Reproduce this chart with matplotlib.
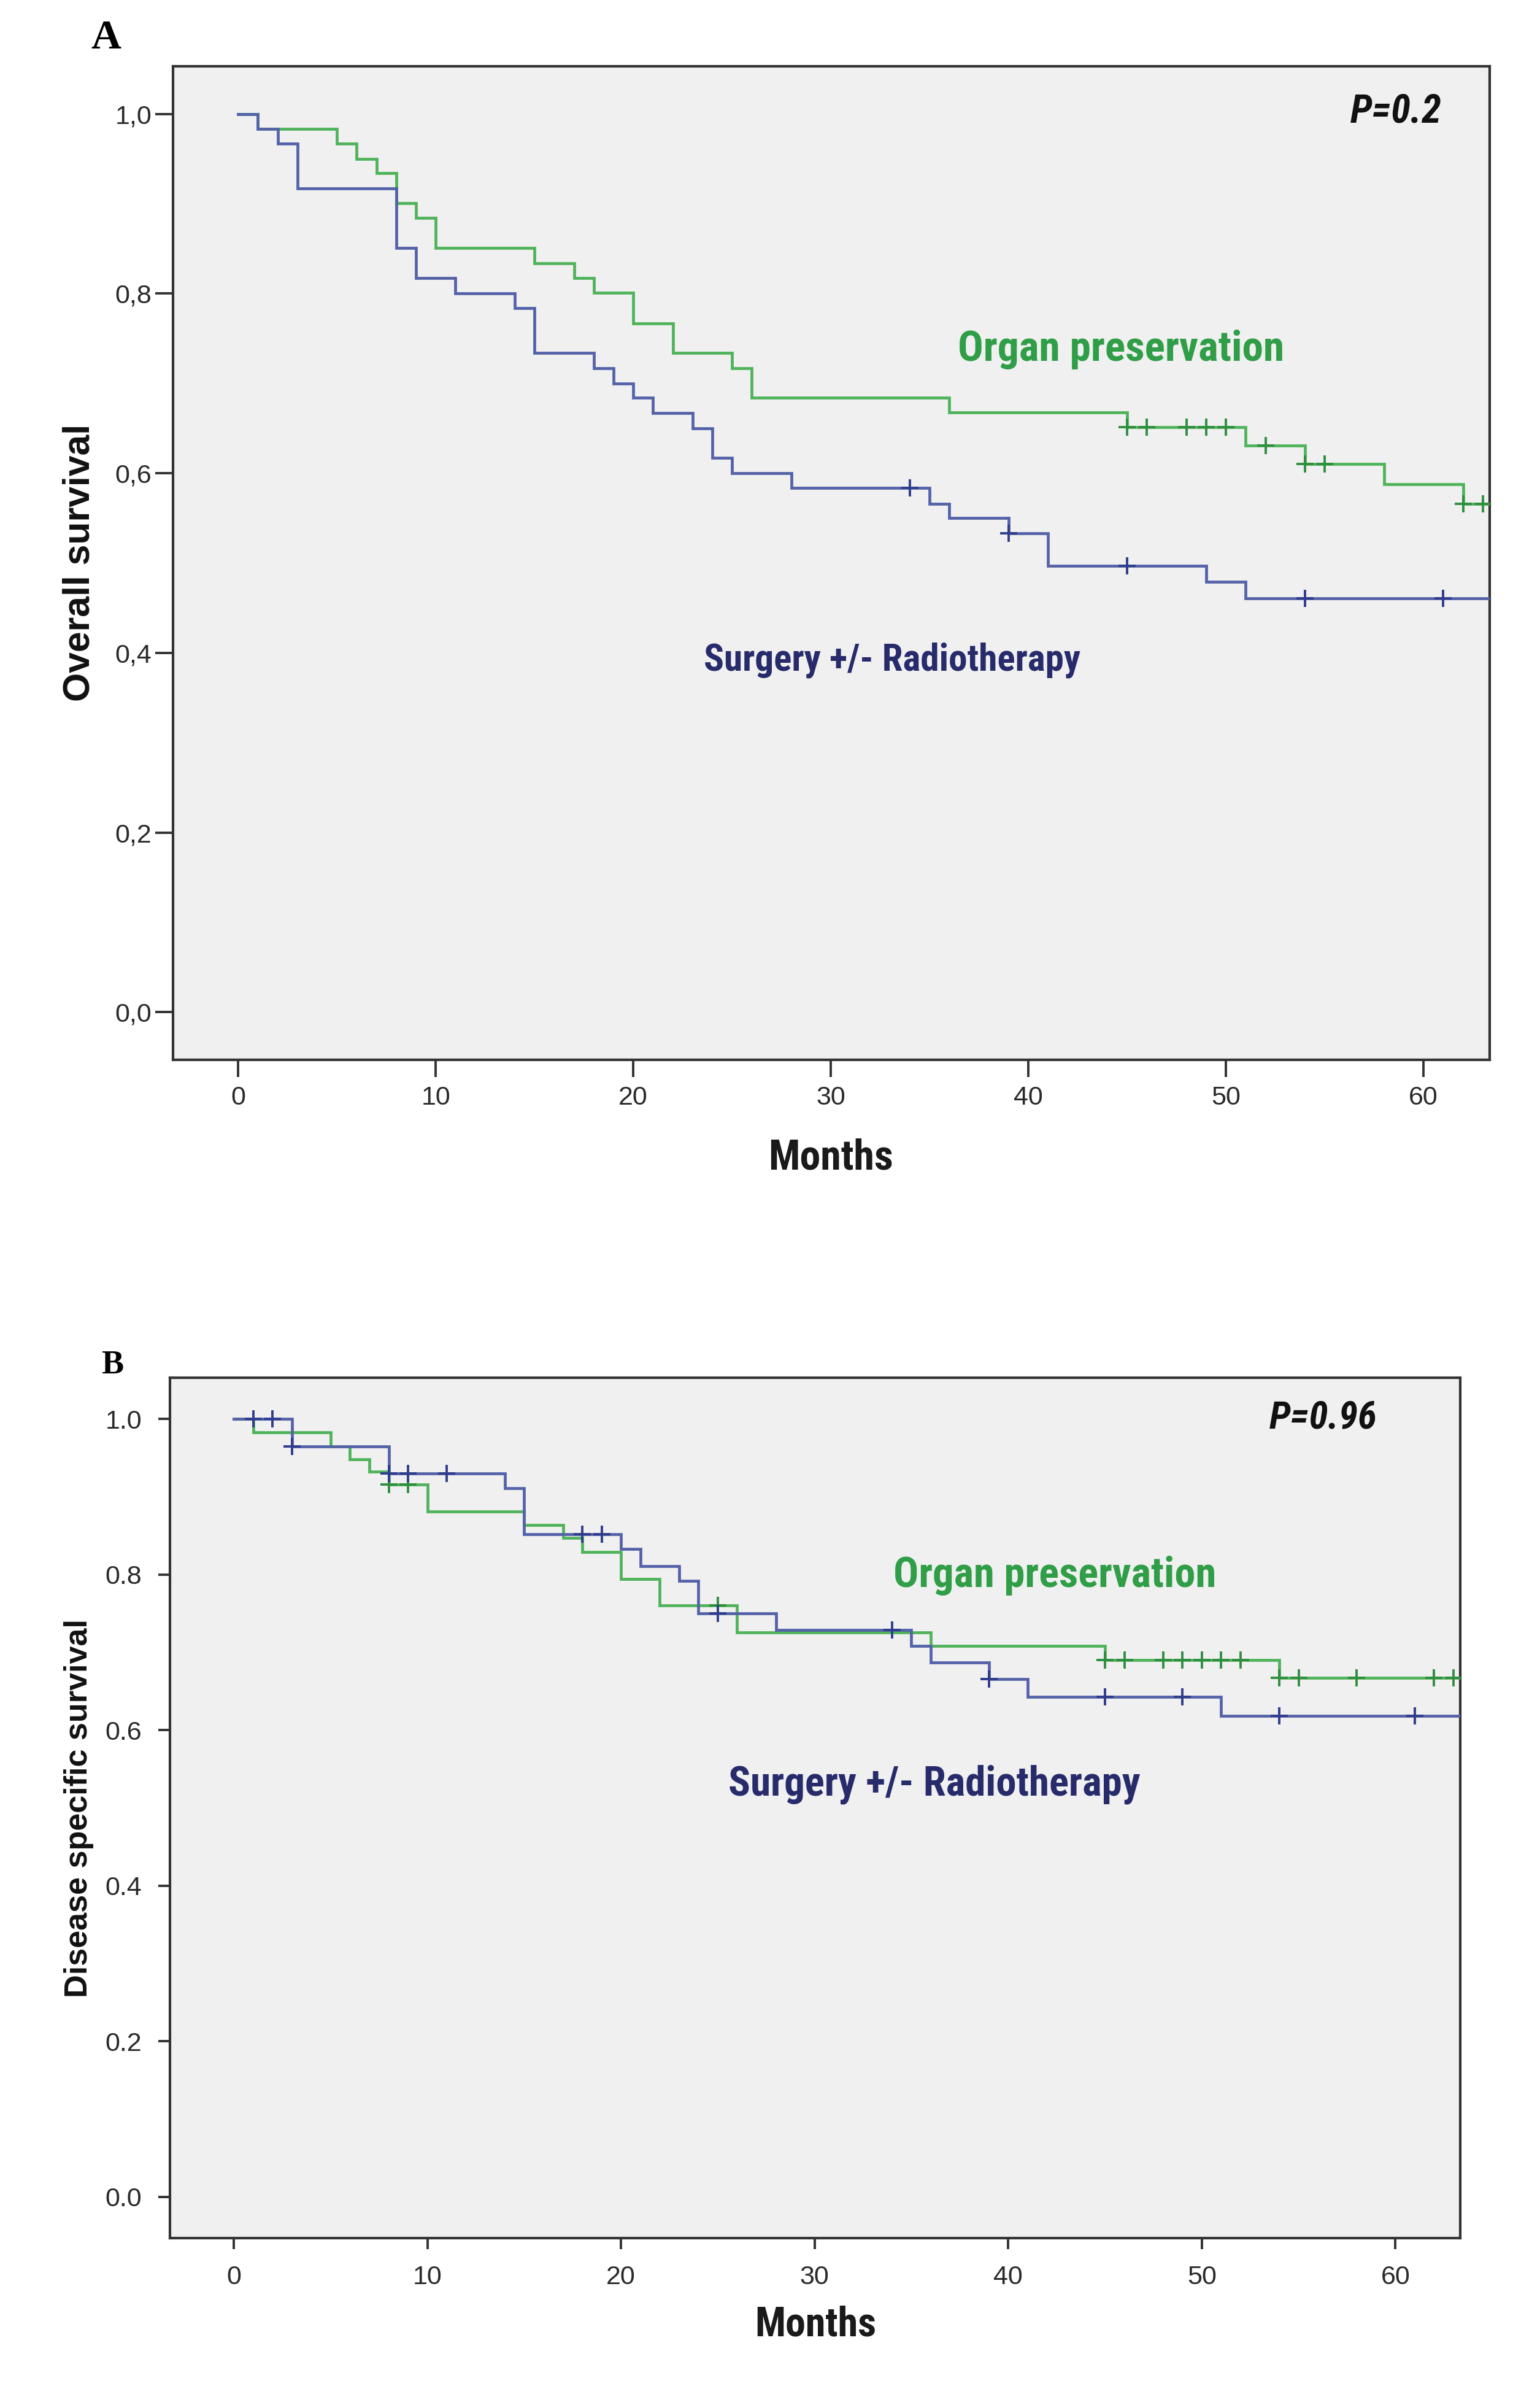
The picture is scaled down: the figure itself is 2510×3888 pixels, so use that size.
import numpy as np
import matplotlib
matplotlib.use("Agg")
import matplotlib.pyplot as plt
from matplotlib import font_manager as fm
from matplotlib.font_manager import FontProperties

# ---------------- data ----------------
# Panel A: overall survival
A_green_t = [0, 1, 5, 6, 7, 8, 9, 10, 15, 17, 18, 20, 22, 25, 26, 36, 45, 51, 54, 58, 62]
A_green_s = [1.0, .983, .967, .950, .934, .901, .884, .851, .834, .817, .801, .767, .734,
             .717, .684, .668, .651, .631, .610, .588, .566]
A_green_cens = [45, 46, 48, 49, 50, 52, 54, 55, 62, 63]
A_blue_t = [0, 1, 2, 3, 8, 9, 11, 14, 15, 18, 19, 20, 21, 23, 24, 25, 28, 35, 36, 39, 41, 49, 51]
A_blue_s = [1.0, .983, .967, .917, .851, .817, .800, .784, .734, .717, .700, .684, .667, .650,
            .617, .600, .584, .566, .550, .533, .497, .479, .461]
A_blue_cens = [34, 39, 45, 54, 61]
A_end = 64

# Panel B: disease specific survival
B_green_t = [0, 1, 5, 6, 7, 8, 10, 15, 17, 18, 20, 22, 26, 36, 45, 54]
B_green_s = [1.0, .983, .965, .948, .932, .916, .881, .864, .847, .829, .794, .760, .726,
             .708, .690, .667]
B_green_cens = [8, 9, 25, 45, 46, 48, 49, 50, 51, 52, 54, 55, 58, 62, 63]
B_blue_t = [0, 3, 8, 14, 15, 20, 21, 23, 24, 28, 35, 36, 39, 41, 51]
B_blue_s = [1.0, .965, .930, .911, .852, .833, .811, .792, .750, .729, .708, .687, .666,
            .643, .618]
B_blue_cens = [1, 2, 3, 8, 9, 11, 18, 19, 25, 34, 39, 45, 49, 54, 61]
B_end = 64

x_ticks = [0, 10, 20, 30, 40, 50, 60]
y_ticks = [0.0, 0.2, 0.4, 0.6, 0.8, 1.0]
A_ytick_labels = ["0,0", "0,2", "0,4", "0,6", "0,8", "1,0"]
B_ytick_labels = ["0.0", "0.2", "0.4", "0.6", "0.8", "1.0"]

# ---------------- fonts ----------------
avail = {f.name for f in fm.fontManager.ttflist}
SANS = "Liberation Sans" if "Liberation Sans" in avail else "DejaVu Sans"
SERIF = "Liberation Serif" if "Liberation Serif" in avail else "DejaVu Serif"


def _wt(w):
    if isinstance(w, str):
        return {"bold": 700, "semibold": 600, "heavy": 800, "black": 900}.get(w, 400)
    return int(w)


def find_condensed(italic=False):
    prefs = ["Liberation Sans Narrow", "Roboto Condensed", "Open Sans Condensed",
             "Noto Sans", "Open Sans", "DejaVu Sans"]
    cands = []
    for f in fm.fontManager.ttflist:
        nm = f.name
        narrow = ("Narrow" in nm or "Condensed" in nm or
                  str(f.stretch) in ("condensed", "semi-condensed", "extra-condensed") or
                  "Condensed" in f.fname or "Narrow" in f.fname)
        if not narrow:
            continue
        if _wt(f.weight) < 600:
            continue
        is_it = f.style in ("italic", "oblique")
        if is_it != italic:
            continue
        rank = next((i for i, p in enumerate(prefs) if nm.startswith(p)), len(prefs))
        cands.append((rank, abs(_wt(f.weight) - 700), f.fname))
    if cands:
        cands.sort()
        return cands[0][2]
    return None


COND_B = find_condensed(False)
COND_BI = find_condensed(True)


def fp_narrow(italic=False):
    path = COND_BI if italic else COND_B
    if path is None and italic:
        path = COND_B
    if path is not None:
        fp = FontProperties(fname=path)
        if italic and path == COND_B:
            fp.set_style("italic")
        return fp
    return FontProperties(family=SANS, weight="bold", style="italic" if italic else "normal")


# ---------------- style ----------------
GREEN_LINE = "#4fb35a"
GREEN_MARK = "#2f8f3f"
GREEN_TEXT = "#2f9e47"
BLUE_LINE = "#5462a8"
BLUE_MARK = "#2f3d8c"
NAVY_TEXT = "#272b6b"
FACE = "#f0f0f0"
FRAME = "#333333"

W, H = 2510, 3888
fig = plt.figure(figsize=(W / 100, H / 100), dpi=100)
fig.patch.set_facecolor("white")


def px(x, y):
    return x / W, 1 - y / H


def km_at(times, surv, t):
    i = np.searchsorted(np.asarray(times), t, side="right") - 1
    return np.asarray(surv)[i]


def draw_curve(ax, t, s, cens, end, lcol, mcol):
    tt = list(t) + [end]
    ss = list(s) + [s[-1]]
    ax.step(tt, ss, where="post", color=lcol, lw=3.4, solid_joinstyle="miter", zorder=3)
    cy = [km_at(t, s, c) for c in cens]
    ax.plot(cens, cy, ls="none", marker="+", ms=20, mew=2.8, color=mcol, zorder=4)


def setup_axes(ax, ylabels, tlen_y, tpad_y, tlen_x, tpad_x):
    ax.set_facecolor(FACE)
    ax.set_xlim(-3.3, 63.35)
    ax.set_ylim(-0.053, 1.053)
    ax.set_xticks(x_ticks)
    ax.set_xticklabels([str(v) for v in x_ticks])
    ax.set_yticks(y_ticks)
    ax.set_yticklabels(ylabels)
    for sp in ax.spines.values():
        sp.set_color(FRAME)
        sp.set_linewidth(3.0)
    ax.tick_params(axis="y", direction="out", length=tlen_y, width=2.8, pad=tpad_y,
                   color=FRAME, labelsize=31, labelcolor="#2a2a2a")
    ax.tick_params(axis="x", direction="out", length=tlen_x, width=2.8, pad=tpad_x,
                   color=FRAME, labelsize=31, labelcolor="#2a2a2a")
    for lab in ax.get_xticklabels() + ax.get_yticklabels():
        lab.set_fontfamily(SANS)


# ---------------- Panel A ----------------
axA = fig.add_axes([282 / W, 1 - 1727 / H, (2428 - 282) / W, (1727 - 108) / H])
setup_axes(axA, A_ytick_labels, 21, 4, 20, 10)
draw_curve(axA, A_green_t, A_green_s, A_green_cens, A_end, GREEN_LINE, GREEN_MARK)
draw_curve(axA, A_blue_t, A_blue_s, A_blue_cens, A_end, BLUE_LINE, BLUE_MARK)

# ---------------- Panel B ----------------
axB = fig.add_axes([277 / W, 1 - 3647 / H, (2380 - 277) / W, (3647 - 2245) / H])
setup_axes(axB, B_ytick_labels, 14, 19, 13, 19)
draw_curve(axB, B_green_t, B_green_s, B_green_cens, B_end, GREEN_LINE, GREEN_MARK)
draw_curve(axB, B_blue_t, B_blue_s, B_blue_cens, B_end, BLUE_LINE, BLUE_MARK)

# ---------------- texts ----------------
fits = []


def ftext(x, y, s, target_w, size, fp=None, **kw):
    if fp is not None:
        fp = fp.copy()
        fp.set_size(size)
        t = fig.text(*px(x, y), s, fontproperties=fp, **kw)
    else:
        t = fig.text(*px(x, y), s, fontsize=size, **kw)
    fits.append((t, target_w))
    return t


ftext(148, 79, "A", 49, 48, family=SERIF, weight="bold", ha="left", va="baseline")
ftext(165, 2238, "B", 36, 40, family=SERIF, weight="bold", ha="left", va="baseline")

ftext(130, 917, "Overall survival", 453, 44, family=SANS, weight="bold",
      rotation=90, ha="center", va="center", color="#111111")
ftext(129, 2946, "Disease specific survival", 616, 38, family=SANS, weight="bold",
      rotation=90, ha="center", va="center", color="#111111")

NB = fp_narrow(False)
NBI = fp_narrow(True)

ftext(1354, 1905, "Months", 204, 50, fp=NB, ha="center", va="baseline", color="#1a1a1a")
ftext(1329, 3806, "Months", 198, 49, fp=NB, ha="center", va="baseline", color="#1a1a1a")

ftext(2201, 199, "P=0.2", 149, 50, fp=NBI, ha="left", va="baseline", color="#111111")
ftext(2069, 2328, "P=0.96", 176, 48, fp=NBI, ha="left", va="baseline", color="#111111")

ftext(1561, 588, "Organ preservation", 533, 51, fp=NB, ha="left", va="baseline", color=GREEN_TEXT)
ftext(1147, 1092, "Surgery +/- Radiotherapy", 614, 45, fp=NB, ha="left", va="baseline",
      color=NAVY_TEXT)
ftext(1456, 2586, "Organ preservation", 526, 50, fp=NB, ha="left", va="baseline", color=GREEN_TEXT)
ftext(1187, 2925, "Surgery +/- Radiotherapy", 671, 49, fp=NB, ha="left", va="baseline",
      color=NAVY_TEXT)

# fit text widths to the reference
fig.canvas.draw()
r = fig.canvas.get_renderer()
for t, w in fits:
    bb = t.get_window_extent(r)
    size_w = bb.height if t.get_rotation() == 90 else bb.width
    if size_w > 0:
        t.set_fontsize(t.get_fontsize() * w / size_w)

fig.savefig("out.png", dpi=100, facecolor="white")
